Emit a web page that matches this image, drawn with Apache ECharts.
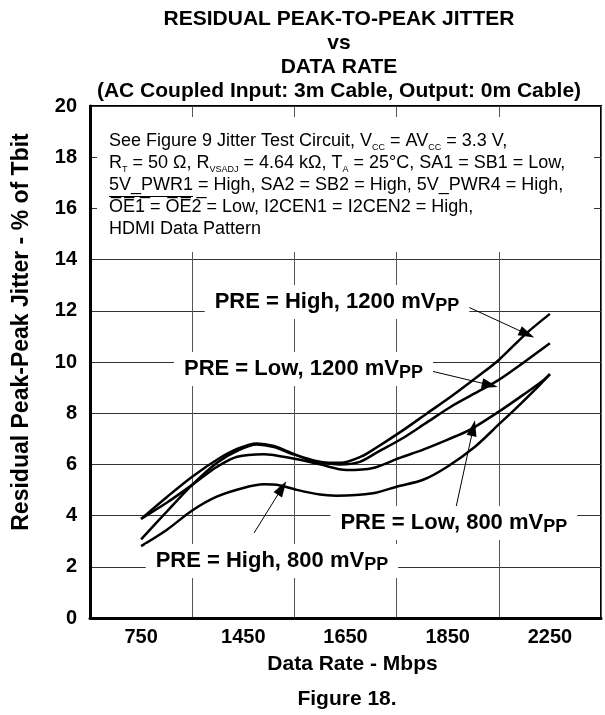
<!DOCTYPE html>
<html><head><meta charset="utf-8">
<script src="https://cdn.jsdelivr.net/npm/echarts@6/dist/echarts.min.js"></script>
<style>html,body{margin:0;padding:0;background:#fff}#c{width:605px;height:715px}</style>
</head><body><div id="c"></div>
<script>
// ---- data ----
// x values are positions on the (unevenly labelled) data-rate axis: 0 = 750, 1 = 1450, 2 = 1650, 3 = 1850, 4 = 2250 Mbps
const categories = ['750', '1450', '1650', '1850', '2250'];
const yMin = 0, yMax = 20, yStep = 2;

const preHigh1200 = [[0,3.87],[0.25,4.72],[0.5,5.52],[0.75,6.2],[0.95,6.62],[1.13,6.82],[1.3,6.72],[1.5,6.4],[1.75,6.06],[1.95,6.06],[2.15,6.3],[2.3,6.65],[2.55,7.3],[2.8,8.0],[3.05,8.7],[3.3,9.45],[3.5,10.08],[3.77,11.12],[4,11.88]];
const preLow1200  = [[0,3.07],[0.25,4.15],[0.5,5.2],[0.75,6.08],[0.95,6.55],[1.13,6.78],[1.3,6.68],[1.5,6.38],[1.75,6.1],[1.95,6.0],[2.14,6.1],[2.3,6.45],[2.55,7.0],[2.8,7.65],[3.05,8.3],[3.3,8.85],[3.5,9.3],[3.75,10.0],[4,10.73]];
const preLow800   = [[0,3.87],[0.25,4.5],[0.5,5.2],[0.74,5.9],[0.94,6.3],[1.2,6.4],[1.5,6.22],[1.75,6.0],[2.01,5.78],[2.27,5.86],[2.52,6.24],[2.76,6.58],[3.0,6.97],[3.22,7.36],[3.5,8.06],[3.75,8.75],[3.94,9.3],[4,9.53]];
const preHigh800  = [[0,2.81],[0.25,3.44],[0.5,4.2],[0.74,4.74],[1.0,5.08],[1.2,5.22],[1.36,5.18],[1.51,5.02],[1.75,4.82],[1.91,4.78],[2.27,4.87],[2.5,5.13],[2.76,5.4],[3.0,5.92],[3.27,6.7],[3.51,7.6],[3.65,8.12],[3.85,8.9],[4,9.53]];

const seriesNames = ['PRE = High, 1200 mVPP', 'PRE = Low, 1200 mVPP', 'PRE = Low, 800 mVPP', 'PRE = High, 800 mVPP'];
const labelMain = ['PRE = High, 1200 mV', 'PRE = Low, 1200 mV', 'PRE = Low, 800 mV', 'PRE = High, 800 mV'];
const labelSub = ['PP', 'PP', 'PP', 'PP'];
const labelAt  = [[1.917, 12.34], [1.589, 9.73], [3.06, 3.71], [1.28, 2.23]];
const arrowFrom = [[3.2, 12.15], [2.836, 9.65], [3.08, 4.3], [1.105, 3.32]];
const arrowTo   = [[3.776, 11.09], [3.413, 9.10], [3.25, 7.42], [1.379, 5.08]];

const titleLines = ['RESIDUAL PEAK-TO-PEAK JITTER', 'vs', 'DATA RATE', '(AC Coupled Input: 3m Cable, Output: 0m Cable)'];
const noteLines = [
  'See Figure 9 Jitter Test Circuit, V{s|CC} = AV{s|CC} = 3.3 V,',
  'R{s|T} = 50 \u03A9, R{s|VSADJ} = 4.64 k\u03A9, T{s|A} = 25\u00B0C, SA1 = SB1 = Low,',
  '5V_PWR1 = High, SA2 = SB2 = High, 5V_PWR4 = High,',
  'O\u0305E\u03051\u0305 = O\u0305E\u03052\u0305 = Low, I2CEN1 = I2CEN2 = High,',
  'HDMI Data Pattern'
];
const yAxisName = 'Residual Peak-Peak Jitter - % of Tbit';
const xAxisName = 'Data Rate - Mbps';
const figureCaption = 'Figure 18.';

// ---- chart ----
const FONT = '"Liberation Sans", Arial, Helvetica, sans-serif';
const chart = echarts.init(document.getElementById('c'));
const labelRich = {
  m: {fontFamily: FONT, fontWeight: 'bold', fontSize: 22, lineHeight: 24, verticalAlign: 'top', color: '#000'},
  s: {fontFamily: FONT, fontWeight: 'bold', fontSize: 18, lineHeight: 18, verticalAlign: 'bottom', padding: [10, 0, 0, 0], color: '#000'}
};
const allData = [preHigh1200, preLow1200, preLow800, preHigh800];
const series = allData.map((d, i) => ({
  type: 'line', name: seriesNames[i], xAxisIndex: 1, yAxisIndex: 0,
  data: d, smooth: 0.3, symbol: 'none', silent: true, animation: false,
  lineStyle: {color: '#000', width: 2.5},
  markPoint: {
    silent: true, animation: false, symbol: 'rect', symbolSize: 0,
    data: [{coord: labelAt[i], value: i}],
    label: {show: true, position: 'inside', formatter: () => '{m|' + labelMain[i] + '}{s|' + labelSub[i] + '}',
      backgroundColor: '#fff', padding: [6, 10, 4, 10], rich: labelRich}
  },
  markLine: {
    silent: true, animation: false, symbol: ['none', 'triangle'], symbolSize: [10, 16],
    label: {show: false}, lineStyle: {color: '#000', width: 1, type: 'solid'},
    emphasis: {disabled: true},
    data: [[{coord: arrowFrom[i]}, {coord: arrowTo[i]}]]
  }
}));

chart.setOption({
  backgroundColor: '#fff',
  animation: false,
  title: [
    {text: titleLines.join('\n'), left: 334, top: 2, textAlign: 'center',
     textStyle: {fontFamily: FONT, fontWeight: 'bold', fontSize: 21, lineHeight: 24, color: '#000'}},
    {text: figureCaption, left: 342, top: 684, textAlign: 'center',
     textStyle: {fontFamily: FONT, fontWeight: 'bold', fontSize: 21, color: '#000'}}
  ],
  grid: {left: 90, right: 4, top: 106, bottom: 97, show: true, borderColor: '#000', borderWidth: 2, backgroundColor: 'transparent'},
  xAxis: [
    {type: 'category', data: categories, boundaryGap: true, position: 'bottom',
     axisLine: {show: true, onZero: false, lineStyle: {color: '#000', width: 3}},
     axisTick: {show: false},
     axisLabel: {interval: 0, margin: 9, color: '#000', fontFamily: FONT, fontWeight: 'bold', fontSize: 20},
     splitLine: {show: true, interval: 0, lineStyle: {color: '#555', width: 1}},
     name: xAxisName, nameLocation: 'middle', nameGap: 36,
     nameTextStyle: {color: '#000', fontFamily: FONT, fontWeight: 'bold', fontSize: 21, padding: [0, 0, 0, 14]}},
    {type: 'value', min: -0.5, max: 4.5, show: false, axisLine: {onZero: false}}
  ],
  yAxis: [{
    type: 'value', min: yMin, max: yMax, interval: yStep, position: 'left',
    axisLine: {show: true, onZero: false, lineStyle: {color: '#000', width: 3}},
    axisTick: {show: false},
    axisLabel: {margin: 13, color: '#000', fontFamily: FONT, fontWeight: 'bold', fontSize: 20},
    splitLine: {show: true, lineStyle: {color: '#333', width: 1}},
    name: yAxisName, nameLocation: 'middle', nameGap: 57, nameRotate: 90,
    nameTextStyle: {color: '#000', fontFamily: FONT, fontWeight: 'bold', fontSize: 23, padding: [0, 0, 0, 60]}
  }],
  graphic: [
    {type: 'rect', z: 1, silent: true, shape: {x: 97, y: 117, width: 497, height: 135}, style: {fill: '#fff'}},
    {type: 'text', z: 1, silent: true, x: 109, y: 130,
     style: {text: noteLines.join('\n'), fill: '#000', fontFamily: FONT, fontSize: 18, lineHeight: 22,
       rich: {s: {fontFamily: FONT, fontSize: 9, lineHeight: 9, verticalAlign: 'bottom', fill: '#000'}}}},
    {type: 'line', z: 2, silent: true, shape: {x1: 109, y1: 196.5, x2: 193, y2: 196.5}, style: {stroke: '#000', lineWidth: 1}}
  ],
  series: series
});
</script>
</body></html>
